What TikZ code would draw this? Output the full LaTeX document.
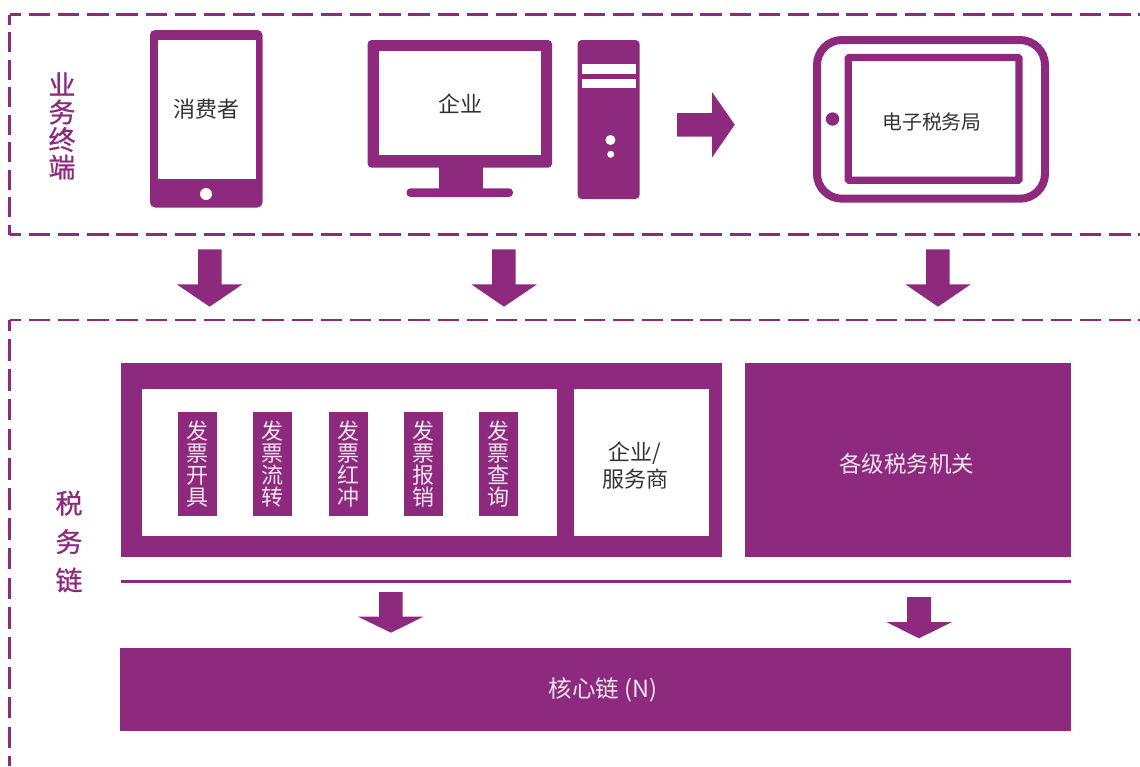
\documentclass[tikz,border=0pt]{standalone}
\usepackage{fontspec}
\setmainfont{Noto Sans CJK SC}
\newfontfamily\sidefont[FakeBold=0.7]{Noto Sans CJK SC}
\definecolor{P}{RGB}{141, 42, 126}
\colorlet{pale}{white!88!P}
\tikzset{
  zone/.style={color=P, line width=2.7pt},
  zonetop/.style={zone, dash pattern=on 21.5pt off 7.7pt, dash phase=10pt},
  zoneleft/.style={zone, dash pattern=on 20pt off 7.5pt, dash phase=10pt},
  zonelow/.style={zone, dash pattern=on 21.5pt off 8.3pt, dash phase=10.6pt},
  chainbar/.style={fill=P, text=pale, inner sep=0pt, minimum width=39pt, minimum height=104pt, align=center, font=\fontsize{22}{22}\selectfont},
  lbl/.style={inner sep=0pt, align=center, text=black!80, font=\fontsize{22}{27}\selectfont},
  side/.style={inner sep=0pt, align=center, text=P, font=\sidefont\fontsize{27}{27.5}\selectfont}
}
\begin{document}
\begin{tikzpicture}[x=1pt,y=-1pt]
  \useasboundingbox (0,0) rectangle (1140,766);
  % dashed zones
  \draw[zonetop] (9.5,14.5) -- (1140,14.5);
  \draw[zonetop] (9.5,234.5) -- (1140,234.5);
  \draw[zoneleft] (9.5,14.5) -- (9.5,234.5);
  \draw[zonetop] (9.5,320) -- (1140,320);
  \draw[zonelow] (9.5,320) -- (9.5,766);
  \node[side] (terminal) at (62,126) {业\\务\\终\\端};
  \node[side, font=\sidefont\fontsize{27}{38.5}\selectfont] (taxchain) at (69,541.5) {税\\务\\链};
  % phone
  \fill[color=P, rounded corners=5pt] (150,30) rectangle (262.5,207.5);
  \fill[color=white] (158.2,40) rectangle (256,179);
  \fill[color=white] (206,194) circle (6);
  \node[lbl] (consumer) at (206.5,109) {消费者};
  % monitor
  \fill[color=P] (439.3,160) rectangle (483.3,190);
  \fill[color=P, rounded corners=4pt] (406.5,188.3) rectangle (513,197);
  \fill[color=P, rounded corners=4pt] (367.6,40) rectangle (552,167.7);
  \fill[color=white] (379.3,51) rectangle (541,155);
  \node[lbl] (firm) at (460,104) {企业};
  % server
  \fill[color=P, rounded corners=4pt] (577.6,40) rectangle (639.5,199);
  \fill[color=white] (582,64) rectangle (636.2,74);
  \fill[color=white] (582,79) rectangle (636.2,88);
  \fill[color=white] (610.4,140) circle (5);
  \fill[color=white] (610.7,154.3) circle (3.5);
  \fill[color=P] (677,113) -- (712.2,113) -- (712.2,92.3) -- (734.7,124.7) -- (712.2,157.3) -- (712.2,136.7) -- (677,136.7) -- cycle;
  % tax bureau tablet
  \draw[color=P, line width=8pt, rounded corners=25pt] (817,40) rectangle (1045,198.7);
  \draw[color=P, line width=7.3pt, rounded corners=1pt] (848.2,57.5) rectangle (1019,180.2);
  \fill[color=P] (832.5,119) circle (6.7);
  \node[lbl, font=\fontsize{19.8}{22}\selectfont] (bureau) at (932,122) {电子税务局};
  % arrows between the zones
  \fill[color=P] (198,249.3) -- (221.5,249.3) -- (221.5,284.3) -- (242.5,284.3) -- (209.6,306.7) -- (176.7,284.3) -- (198,284.3) -- cycle;
  \fill[color=P] (492,249.3) -- (515.6,249.3) -- (515.6,284.3) -- (537,284.3) -- (504,306.7) -- (471.3,284.3) -- (492,284.3) -- cycle;
  \fill[color=P] (926,249.3) -- (949.6,249.3) -- (949.6,284.3) -- (970.7,284.3) -- (938,306.7) -- (905.3,284.3) -- (926,284.3) -- cycle;
  % tax chain
  \fill[color=P] (121,363) rectangle (722,557);
  \fill[color=white] (142.2,389) rectangle (557,536);
  \fill[color=white] (574,389) rectangle (709,536);
  \node[chainbar] (open) at (197.5,463.9) {发\\票\\开\\具};
  \node[chainbar] (flow) at (272.5,463.9) {发\\票\\流\\转};
  \node[chainbar] (red) at (348.5,463.9) {发\\票\\红\\冲};
  \node[chainbar] (claim) at (423.5,463.9) {发\\票\\报\\销};
  \node[chainbar] (query) at (498.5,463.9) {发\\票\\查\\询};
  \node[lbl] (provider) at (635,465.3) {企业/\\服务商};
  \fill[color=P] (745,363) rectangle (1071,557);
  \node[lbl, text=pale, font=\fontsize{22.5}{27}\selectfont] (offices) at (906.5,463.5) {各级税务机关};
  \draw[color=P, line width=3pt] (121,581) -- (1071,581);
  \fill[color=P] (379,592) -- (402.5,592) -- (402.5,616.7) -- (423.3,616.7) -- (391,632.7) -- (358,616.7) -- (379,616.7) -- cycle;
  \fill[color=P] (907,597) -- (931,597) -- (931,622) -- (952,622) -- (919,638.3) -- (886.3,622) -- (907,622) -- cycle;
  \fill[color=P] (120,648) rectangle (1071,731);
  \node[lbl, text=pale, font=\fontsize{23.5}{27}\selectfont] (core) at (603,690) {核心链\hspace{5pt}(N)};
\end{tikzpicture}
\end{document}
